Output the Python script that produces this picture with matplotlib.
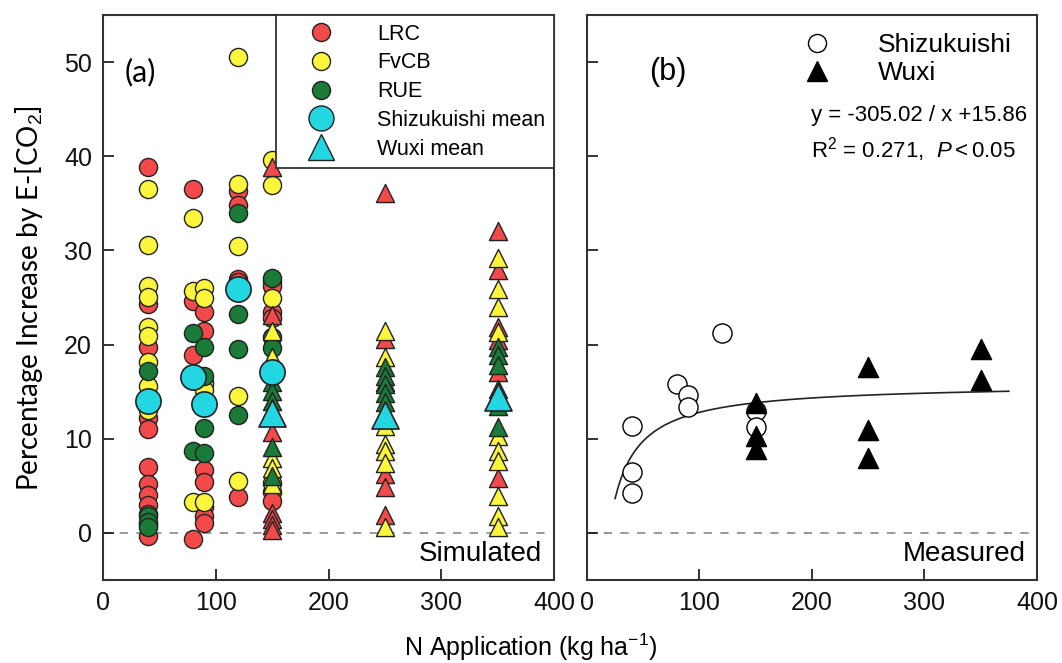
import numpy as np
import matplotlib
matplotlib.use("Agg")
import matplotlib.pyplot as plt
from matplotlib.lines import Line2D

plt.rcParams['font.family'] = ['Liberation Sans Narrow', 'Liberation Sans', 'DejaVu Sans']
plt.rcParams['mathtext.fontset'] = 'custom'
plt.rcParams['mathtext.rm'] = 'Liberation Sans'
plt.rcParams['mathtext.it'] = 'Liberation Sans:italic'
narrow = ['Liberation Sans Narrow', 'Liberation Sans', 'DejaVu Sans']
arial = ['Liberation Sans', 'DejaVu Sans']
calibri = ['Lato', 'DejaVu Sans']

# === data: simulated increase, Shizukuishi (circles) ===
shz_lrc = {40: [38.9, 24.3, 19.8, 12.2, 11.0, 7.0, 5.2, 4.0, 3.0, 2.0, 1.0, -0.3],
           80: [36.5, 24.6, 18.9, -0.6],
           90: [23.5, 21.5, 16.0, 6.7, 5.4, 2.7, 1.8, 1.1],
           120: [36.3, 34.8, 27.0, 26.6, 3.8],
           150: [26.8, 26.2, 23.5, 22.8, 4.3, 3.4]}
shz_fvcb = {40: [36.5, 30.6, 26.2, 25.1, 21.9, 20.9, 18.2, 15.6, 13.1],
            80: [33.5, 25.7, 3.3],
            90: [26.0, 24.9, 15.8, 15.2, 3.3],
            120: [50.5, 37.1, 30.5, 14.5, 5.5],
            150: [39.6, 37.0, 25.0, 5.3]}
shz_rue = {40: [17.2, 1.8, 1.2, 0.6],
           80: [21.2, 8.7],
           90: [19.7, 16.7, 11.1, 8.5],
           120: [34.0, 23.3, 19.5, 12.5],
           150: [27.1, 20.8, 19.6]}

# === data: simulated increase, Wuxi (triangles) ===
wx_lrc = {150: [38.9, 23.1, 10.7, 2.1, 1.5, 0.8, 0.3],
          250: [36.1, 20.6, 16.0, 6.3, 4.9, 1.9],
          350: [32.1, 27.9, 21.9, 20.5, 17.1, 5.8]}
wx_fvcb = {150: [21.5, 18.7, 8.0, 6.9, 5.2],
           250: [21.5, 18.7, 11.4, 9.4, 8.7, 7.4, 0.66],
           350: [29.2, 25.9, 24.0, 21.3, 10.3, 8.7, 7.6, 3.9, 1.75, 0.66]}
wx_rue = {150: [16.0, 15.1, 14.0, 9.1, 6.0],
          250: [17.6, 16.7, 15.8, 14.9, 13.9],
          350: [19.8, 18.9, 17.8, 15.3, 13.5, 11.3]}

shz_mean_x = [40, 80, 90, 120, 150]
shz_mean_y = [14.0, 16.6, 13.7, 25.9, 17.1]
wx_mean_x = [150, 250, 350]
wx_mean_y = [12.7, 12.5, 14.4]

# === data: measured ===
meas_shz_x = [40, 40, 40, 80, 90, 90, 120, 150, 150]
meas_shz_y = [11.4, 6.5, 4.2, 15.8, 14.7, 13.4, 21.2, 12.9, 11.3]
meas_wx_x = [150, 150, 150, 250, 250, 250, 350, 350]
meas_wx_y = [13.8, 10.3, 8.9, 17.6, 10.9, 8.0, 19.5, 16.2]
fit_a, fit_b = -305.02, 15.86

c_lrc = '#f24a4a'
c_fvcb = '#fbf53c'
c_rue = '#1a7a38'
c_mean = '#22d6e2'


def flat(d):
    xs, ys = [], []
    for k, v in d.items():
        xs += [k] * len(v)
        ys += v
    return xs, ys


fig = plt.figure(figsize=(10.62, 6.63), dpi=100)
axa = fig.add_axes([0.097, 0.1252, 0.4247, 0.852])
axb = fig.add_axes([0.5527, 0.1252, 0.4237, 0.852])

for ax in (axa, axb):
    ax.set_xlim(0, 400)
    ax.set_ylim(-5, 55)
    ax.axhline(0, color='#888888', ls=(0, (5, 5)), lw=1.2, zorder=0)
    ax.set_xticks([0, 100, 200, 300, 400])
    ax.set_yticks([0, 10, 20, 30, 40, 50])
    ax.tick_params(direction='in', length=8, width=1.2, labelsize=18, colors='#111111',
                   top=False, right=False, pad=8)
    for s in ax.spines.values():
        s.set_linewidth(1.5)
        s.set_color('#333333')
    for lab in ax.get_xticklabels() + ax.get_yticklabels():
        lab.set_family(narrow)
axb.set_yticklabels([])

ms, ec = 170, '#222222'
for d, col in ((shz_lrc, c_lrc), (shz_fvcb, c_fvcb), (shz_rue, c_rue)):
    x, y = flat(d)
    axa.scatter(x, y, s=ms, c=col, marker='o', edgecolors=ec, linewidths=1.0, zorder=3)
for d, col in ((wx_lrc, c_lrc), (wx_fvcb, c_fvcb), (wx_rue, c_rue)):
    x, y = flat(d)
    axa.scatter(x, y, s=ms, c=col, marker='^', edgecolors=ec, linewidths=1.0, zorder=3)
axa.scatter(shz_mean_x, shz_mean_y, s=330, c=c_mean, marker='o', edgecolors=ec, linewidths=1.2, zorder=4)
axa.scatter(wx_mean_x, wx_mean_y, s=380, c=c_mean, marker='^', edgecolors=ec, linewidths=1.2, zorder=4)

handles = [Line2D([], [], ls='', marker='o', ms=13, mfc=c_lrc, mec=ec),
           Line2D([], [], ls='', marker='o', ms=13, mfc=c_fvcb, mec=ec),
           Line2D([], [], ls='', marker='o', ms=13, mfc=c_rue, mec=ec),
           Line2D([], [], ls='', marker='o', ms=18, mfc=c_mean, mec=ec),
           Line2D([], [], ls='', marker='^', ms=19, mfc=c_mean, mec=ec)]
leg = axa.legend(handles, ['LRC', 'FvCB', 'RUE', 'Shizukuishi mean', 'Wuxi mean'],
                 loc='upper right', bbox_to_anchor=(1, 1), borderaxespad=0,
                 fancybox=False, edgecolor='#333333', framealpha=1,
                 prop={'family': arial, 'size': 15.5}, handletextpad=0.9,
                 borderpad=0.4, labelspacing=0.36, handlelength=3.4)
leg.get_frame().set_linewidth(1.3)

axa.text(33, 49, '(a)', fontsize=22, family=calibri, ha='center', va='center')
axa.text(389, -2.2, 'Simulated', fontsize=20, family=narrow, ha='right', va='center')

# panel b
axb.scatter(meas_shz_x, meas_shz_y, s=190, facecolors='white', edgecolors='black',
            linewidths=1.0, marker='o', zorder=3)
axb.scatter(meas_wx_x, meas_wx_y, s=210, c='black', marker='^', zorder=3)
xf = np.linspace(25, 375, 300)
axb.plot(xf, fit_a / xf + fit_b, color='#222222', lw=1.2, zorder=2)

hb = [Line2D([], [], ls='', marker='o', ms=13, mfc='white', mec='black'),
      Line2D([], [], ls='', marker='^', ms=14, mfc='black', mec='black')]
axb.legend(hb, ['Shizukuishi', 'Wuxi'], loc='upper left', bbox_to_anchor=(0.40, 1.01),
           frameon=False, prop={'family': arial, 'size': 19}, handletextpad=1.3,
           labelspacing=0.15, handlelength=2.0)
axb.text(199, 44.3, 'y = -305.02 / x +15.86', fontsize=16, family=arial, va='center')
axb.text(199, 40.7, r'R$^2$ = 0.271,  $\mathit{P<0.05}$', fontsize=16,
         family=arial, va='center')
axb.text(72, 49, '(b)', fontsize=22, family=arial, ha='center', va='center')
axb.text(390, -2.2, 'Measured', fontsize=20, family=narrow, ha='right', va='center')

fig.text(0.012, 0.55, 'Percentage Increase by E-[CO$_2$]', rotation=90, fontsize=20,
         family=calibri, ha='left', va='center')
fig.text(0.5, 0.023, 'N Application (kg ha$^{-1}$)', fontsize=18, family=narrow,
         ha='center', va='center')

fig.savefig('out.png', dpi=100)
